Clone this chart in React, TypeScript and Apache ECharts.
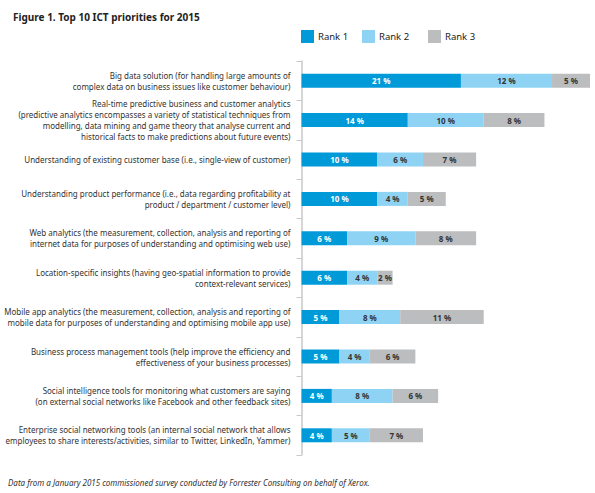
import React, { useEffect, useRef } from "react";
import * as echarts from "echarts";

const categories = [
  "Big data solution (for handling large amounts of\ncomplex data on business issues like customer behaviour)",
  "Real-time predictive business and customer analytics\n(predictive analytics encompasses a variety of statistical techniques from\nmodelling, data mining and game theory that analyse current and\nhistorical facts to make predictions about future events)",
  "Understanding of existing customer base (i.e., single-view of customer)",
  "Understanding product performance (i.e., data regarding profitability at\nproduct / department / customer level)",
  "Web analytics (the measurement, collection, analysis and reporting of\ninternet data for purposes of understanding and optimising web use)",
  "Location-specific insights (having geo-spatial information to provide\ncontext-relevant services)",
  "Mobile app analytics (the measurement, collection, analysis and reporting of\nmobile data for purposes of understanding and optimising mobile app use)",
  "Business process management tools (help improve the efficiency and\neffectiveness of your business processes)",
  "Social intelligence tools for monitoring what customers are saying\n(on external social networks like Facebook and other feedback sites)",
  "Enterprise social networking tools (an internal social network that allows\nemployees to share interests/activities, similar to Twitter, LinkedIn, Yammer)",
];

const rank1 = [21, 14, 10, 10, 6, 6, 5, 5, 4, 4];
const rank2 = [12, 10, 6, 4, 9, 4, 8, 4, 8, 5];
const rank3 = [5, 8, 7, 5, 8, 2, 11, 6, 6, 7];
const seriesNames = ["Rank 1", "Rank 2", "Rank 3"];
const colors = ["#009ad9", "#8fd3f4", "#bcbdbf"];
const labelColors = ["#ffffff", "#333333", "#333333"];
const legendLefts = [301, 362, 428];

const titleText = "Figure 1. Top 10 ICT priorities for 2015";
const footText =
  "Data from a January 2015 commissioned survey conducted by Forrester Consulting on behalf of Xerox.";

export default function App() {
  const ref = useRef<HTMLDivElement>(null);
  useEffect(() => {
    if (!ref.current) return;
    const chart = echarts.init(ref.current, null, { renderer: "svg" });
    const font = "Noto Sans";
    const data = [rank1, rank2, rank3];
    chart.setOption({
      animation: false,
      backgroundColor: "#ffffff",
      textStyle: { fontFamily: font },
      title: {
        text: titleText,
        left: 8,
        top: 7,
        textStyle: { fontSize: 10, fontWeight: "bold", color: "#222", fontFamily: font },
      },
      graphic: [
        {
          type: "text",
          left: 8,
          top: 478,
          style: {
            text: footText,
            fontSize: 8,
            fontStyle: "italic",
            fill: "#333",
            fontFamily: font,
          },
        },
      ],
      legend: seriesNames.map((name, i) => ({
        left: legendLefts[i],
        top: 30,
        padding: 0,
        itemWidth: 13,
        itemHeight: 13,
        itemGap: 0,
        icon: "rect",
        data: [name],
        textStyle: { fontSize: 9.5, color: "#222", fontFamily: font, padding: [0, 0, 0, -1] },
      })),
      grid: { left: 301.5, right: 5, top: 61, height: 394, containLabel: false },
      xAxis: {
        type: "value",
        min: 0,
        max: 38,
        show: false,
      },
      yAxis: {
        type: "category",
        inverse: true,
        data: categories,
        axisLine: { show: true, lineStyle: { color: "#c8c8c8", width: 1.5 } },
        axisTick: { show: true, length: 5, lineStyle: { color: "#c8c8c8", width: 1 } },
        axisLabel: {
          margin: 11,
          fontSize: 8,
          lineHeight: 11,
          color: "#333",
          align: "right",
          fontFamily: font,
        },
      },
      series: seriesNames.map((name, i) => ({
        name,
        type: "bar",
        stack: "total",
        barWidth: 14,
        data: data[i],
        itemStyle: { color: colors[i] },
        label: {
          show: true,
          position: "inside",
          formatter: (p: any) => `${p.value} %`,
          color: labelColors[i],
          fontSize: 8,
          fontWeight: "bold",
          fontFamily: font,
        },
      })),
    });
    return () => chart.dispose();
  }, []);
  return (
    <div
      ref={ref}
      style={{ position: "fixed", left: 0, top: 0, width: 595, height: 493 }}
    />
  );
}
